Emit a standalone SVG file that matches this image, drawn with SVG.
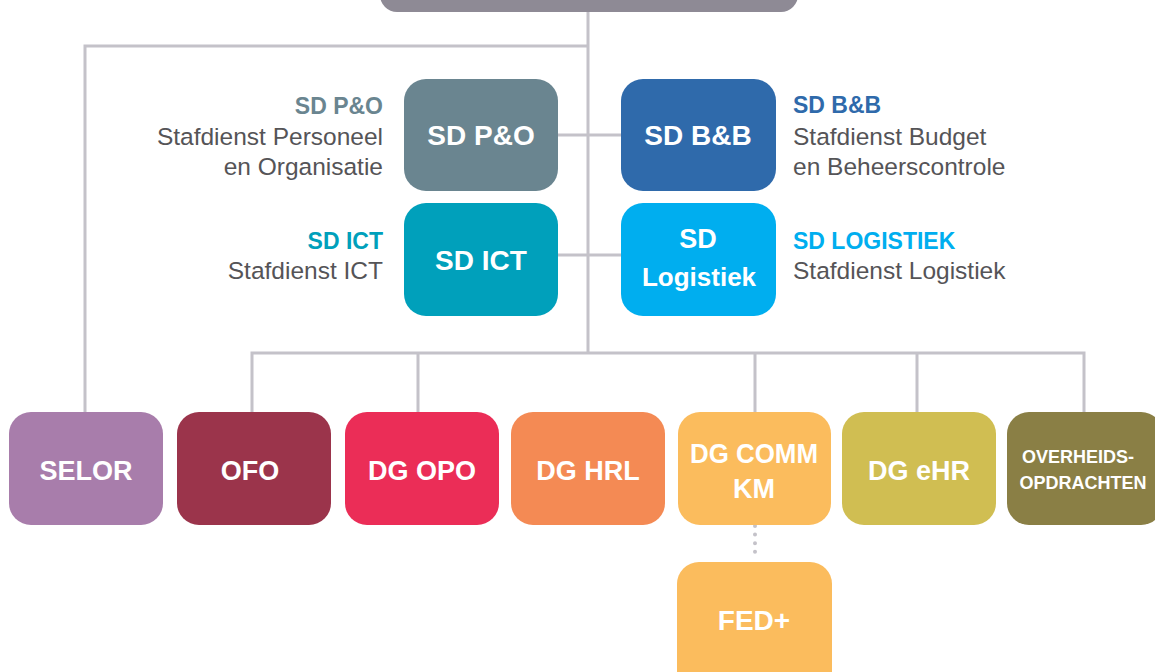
<svg xmlns="http://www.w3.org/2000/svg" width="1155" height="672" viewBox="0 0 1155 672">
<style>
.ln{stroke:#c4c2c9;stroke-width:3;fill:none}
.dot{stroke:#c4c2c9;stroke-width:4;fill:none;stroke-linecap:round;stroke-dasharray:0 8.6}
.bx{font-family:"Liberation Sans",Arial,sans-serif;font-weight:bold;fill:#fff;text-anchor:middle}
.lbl{font-family:"Liberation Sans",Arial,sans-serif;font-weight:bold;font-size:23px}
.sub{font-family:"Liberation Sans",Arial,sans-serif;font-size:24.5px;fill:#555457}
.r{text-anchor:end}
</style>
<rect width="1155" height="672" fill="#fff"/>
<g id="connectors">
<path class="ln" d="M588 12V353M85 412V46H588M558 135H621M558 255H621M252 412V353H1084V412M418 353V412M755 353V412M917 353V412"/>
<path class="dot" d="M755 526V560"/>
</g>
<g id="top"><rect x="380" y="-30" width="418" height="42" rx="17" fill="#8e8a95"/></g>
<g id="sdpo">
<rect x="404" y="79" width="154" height="112" rx="22" fill="#6a8590"/>
<text class="bx" x="481" y="145" font-size="28">SD P&amp;O</text>
<text class="lbl r" x="383" y="114" fill="#6a8590">SD P&amp;O</text>
<text class="sub r" x="383" y="145">Stafdienst Personeel</text>
<text class="sub r" x="383" y="175">en Organisatie</text>
</g>
<g id="sdbb">
<rect x="621" y="79" width="155" height="112" rx="22" fill="#2f6aab"/>
<text class="bx" x="698" y="145" font-size="28">SD B&amp;B</text>
<text class="lbl" x="793" y="113" fill="#2f6aab">SD B&amp;B</text>
<text class="sub" x="793" y="145">Stafdienst Budget</text>
<text class="sub" x="793" y="175">en Beheerscontrole</text>
</g>
<g id="sdict">
<rect x="404" y="203" width="154" height="113" rx="22" fill="#00a0bb"/>
<text class="bx" x="481" y="270" font-size="28">SD ICT</text>
<text class="lbl r" x="383" y="249" fill="#00a0bb">SD ICT</text>
<text class="sub r" x="383" y="279">Stafdienst ICT</text>
</g>
<g id="sdlog">
<rect x="621" y="203" width="155" height="113" rx="22" fill="#00aeef"/>
<text class="bx" x="698" y="248" font-size="27">SD</text>
<text class="bx" x="699" y="286" font-size="26">Logistiek</text>
<text class="lbl" x="793" y="249" fill="#00aeef">SD LOGISTIEK</text>
<text class="sub" x="793" y="279">Stafdienst Logistiek</text>
</g>
<g id="selor">
<rect x="9" y="412" width="154" height="113" rx="22" fill="#a87dab"/>
<text class="bx" x="86" y="480" font-size="27">SELOR</text>
</g>
<g id="ofo">
<rect x="177" y="412" width="154" height="113" rx="22" fill="#9b344b"/>
<text class="bx" x="250" y="480" font-size="27">OFO</text>
</g>
<g id="dgopo">
<rect x="345" y="412" width="154" height="113" rx="22" fill="#eb2d57"/>
<text class="bx" x="422" y="480" font-size="27">DG OPO</text>
</g>
<g id="dghrl">
<rect x="511" y="412" width="154" height="113" rx="22" fill="#f48a54"/>
<text class="bx" x="588" y="480" font-size="27">DG HRL</text>
</g>
<g id="dgcomm">
<rect x="678" y="412" width="153" height="113" rx="22" fill="#fbbc5d"/>
<text class="bx" x="754" y="463" font-size="27" textLength="128" lengthAdjust="spacingAndGlyphs">DG COMM</text>
<text class="bx" x="754" y="498" font-size="27">KM</text>
</g>
<g id="dgehr">
<rect x="842" y="412" width="154" height="113" rx="22" fill="#d0be52"/>
<text class="bx" x="919" y="480" font-size="27">DG eHR</text>
</g>
<g id="overheid">
<rect x="1007" y="412" width="156" height="113" rx="22" fill="#8a7f45"/>
<text class="bx" x="1078" y="463" font-size="18">OVERHEIDS-</text>
<text class="bx" x="1083" y="489" font-size="18">OPDRACHTEN</text>
</g>
<g id="fed">
<rect x="677" y="562" width="155" height="140" rx="22" fill="#fbbc5d"/>
<text class="bx" x="754" y="630" font-size="28">FED+</text>
</g>
</svg>
